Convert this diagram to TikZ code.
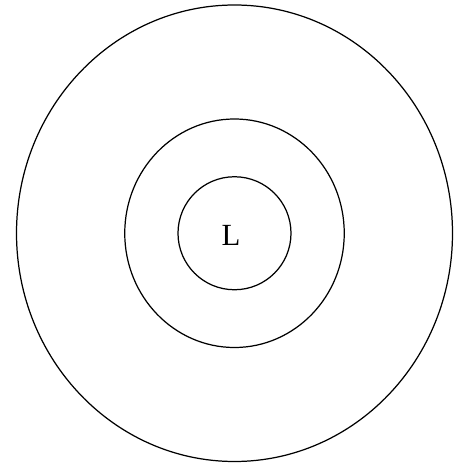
\documentclass[tikz,border=0pt]{standalone}
\usepackage{fontspec}
\setmainfont{Liberation Serif}
\usepackage{tikz}
\usetikzlibrary{positioning}

\begin{document}
\begin{tikzpicture}
\useasboundingbox (0,0) rectangle (9.24,9.32);

\coordinate(c) at (4.69,4.655);
\draw[line width=0.7pt] (c) ellipse (4.36 and 4.565);
\draw[line width=0.7pt] (c) ellipse (2.195 and 2.285);
\draw[line width=0.7pt] (c) circle (1.13);

\node(l) at (4.62,4.62) {\fontsize{17.5}{20}\selectfont L};
\end{tikzpicture}
\end{document}
